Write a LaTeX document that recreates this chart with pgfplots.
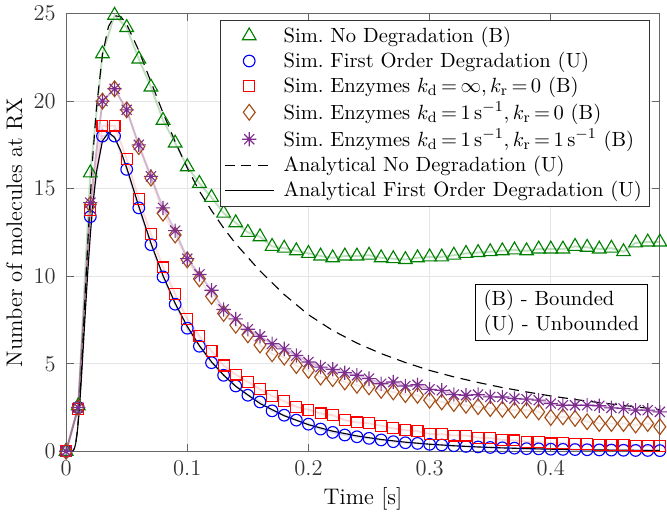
\documentclass[border=0pt]{standalone}
\usepackage{pgfplots}
\pgfplotsset{compat=1.18}
\usepackage{pgfplotstable}
\definecolor{cgreen}{rgb}{0,0.5,0}
\definecolor{cblue}{rgb}{0,0,1}
\definecolor{cred}{rgb}{1,0,0}
\definecolor{cbrown}{rgb}{0.64,0.30,0.08}
\definecolor{cpurple}{rgb}{0.49,0.18,0.56}
\pgfdeclareplotmark{mstar}{%
 \pgfpathmoveto{\pgfqpoint{-\pgfplotmarksize}{0pt}}\pgfpathlineto{\pgfqpoint{\pgfplotmarksize}{0pt}}%
 \pgfpathmoveto{\pgfqpoint{0pt}{-\pgfplotmarksize}}\pgfpathlineto{\pgfqpoint{0pt}{\pgfplotmarksize}}%
 \pgfpathmoveto{\pgfqpoint{-.707\pgfplotmarksize}{-.707\pgfplotmarksize}}\pgfpathlineto{\pgfqpoint{.707\pgfplotmarksize}{.707\pgfplotmarksize}}%
 \pgfpathmoveto{\pgfqpoint{-.707\pgfplotmarksize}{.707\pgfplotmarksize}}\pgfpathlineto{\pgfqpoint{.707\pgfplotmarksize}{-.707\pgfplotmarksize}}%
 \pgfusepathqstroke}
\pgfplotsset{
  markleg/.style={legend image code/.code={\draw[mark repeat=2,mark phase=2,##1] plot coordinates {(0pt,0pt)(13pt,0pt)(26pt,0pt)};}},
  lineleg/.style={legend image code/.code={\draw[##1] (0pt,0pt) -- (26pt,0pt);}},
}

% t, nodeg, first, kdinf, kd1kr0, kd1kr1
\pgfplotstableread{
t     A      B     C     D     E
0.00  0      0     0     0     0
0.01  2.6    2.5   2.4   2.5   2.5
0.02  15.9   13.4  13.8  14.1  14.2
0.03  22.7   18.0  18.6  20.0  20.0
0.04  24.9   18.0  18.6  20.7  20.7
0.05  24.2   16.1  16.7  19.5  19.5
0.06  22.4   13.9  14.4  17.4  17.5
0.07  20.8   11.8  12.4  15.6  15.7
0.08  18.9   9.96  10.5  13.6  13.9
0.09  17.6   8.4   8.98  12.35 12.6
0.10  16.25  7.03  7.56  10.93 11.0
0.11  15.3   6.0   6.57  9.85  10.1
0.12  14.5   5.06  5.72  8.85  9.2
0.13  13.6   4.34  4.9   7.87  8.1
0.14  13.05  3.73  4.38  7.2   7.56
0.15  12.5   3.2   3.96  6.65  6.97
0.16  12.25  2.82  3.54  6.07  6.57
0.17  11.7   2.31  3.16  5.57  6.14
0.18  11.6   2.06  2.86  5.38  5.85
0.19  11.45  1.78  2.54  4.9   5.47
0.20  11.3   1.55  2.38  4.62  5.1
0.21  11.15  1.27  2.16  4.24  4.81
0.22  11.05  1.08  2.06  4.15  4.68
0.23  11.15  0.93  1.78  3.96  4.49
0.24  11.15  0.83  1.65  3.77  4.34
0.25  11.2   0.74  1.6   3.68  4.15
0.26  11.05  0.65  1.46  3.48  3.86
0.27  11.0   0.55  1.31  3.39  3.96
0.28  10.95  0.49  1.2   3.24  3.73
0.29  11.05  0.45  1.15  3.2   3.8
0.30  11.1   0.4   0.99  2.92  3.54
0.31  11.1   0.36  0.97  2.82  3.48
0.32  11.2   0.32  0.9   2.73  3.24
0.33  11.3   0.28  0.9   2.63  3.2
0.34  11.35  0.25  0.78  2.55  3.24
0.35  11.4   0.22  0.76  2.44  3.11
0.36  11.45  0.2   0.65  2.4   3.1
0.37  11.5   0.18  0.62  2.35  3.01
0.38  11.45  0.15  0.55  2.35  2.98
0.39  11.55  0.14  0.52  2.25  2.92
0.40  11.55  0.12  0.45  1.93  2.73
0.41  11.55  0.11  0.47  1.97  2.63
0.42  11.7   0.1   0.42  1.88  2.63
0.43  11.65  0.09  0.4   1.69  2.63
0.44  11.55  0.08  0.38  1.59  2.6
0.45  11.6   0.07  0.36  1.59  2.48
0.46  11.4   0.06  0.35  1.59  2.45
0.47  11.9   0.05  0.33  1.5   2.35
0.48  11.95  0.05  0.31  1.59  2.35
0.49  11.95  0.04  0.3   1.4   2.25
}\simdata

% analytical curves: t, no degradation, first order degradation
\pgfplotstableread{
t      N      F
0.000  0      0
0.004  0.0005 0.0005
0.005  0.009  0.009
0.006  0.057  0.054
0.007  0.20   0.191
0.008  0.51   0.477
0.009  1.03   0.953
0.010  1.77   1.626
0.011  2.71   2.477
0.012  3.84   3.477
0.013  5.10   4.581
0.014  6.45   5.745
0.015  7.85   6.94
0.016  9.26   8.12
0.018  12.02  10.37
0.020  14.56  12.36
0.022  16.80  14.03
0.025  19.56  15.94
0.030  22.66  17.72
0.035  24.26  18.21
0.040  24.87  17.92
0.045  24.83  17.17
0.050  24.39  16.19
0.060  22.88  13.99
0.070  21.10  11.89
0.080  19.32  10.03
0.090  17.68  8.45
0.100  16.18  7.13
0.110  14.86  6.03
0.120  13.75  5.11
0.130  12.75  4.35
0.140  11.85  3.71
0.160  10.30  2.73
0.180  8.95   2.03
0.200  7.80   1.52
0.220  6.90   1.15
0.240  6.18   0.879
0.260  5.58   0.675
0.280  5.07   0.522
0.300  4.62   0.405
0.320  4.25   0.316
0.340  3.93   0.248
0.360  3.64   0.195
0.380  3.39   0.154
0.400  3.16   0.122
0.420  2.96   0.097
0.440  2.78   0.077
0.460  2.62   0.062
0.490  2.38   0.044
}\anadata

\begin{document}
\begin{tikzpicture}
\begin{axis}[
  width=316pt, height=233pt, scale only axis,
  xmin=0, xmax=0.49, ymin=0, ymax=25,
  xtick={0,0.1,0.2,0.3,0.4},
  xticklabels={0,0.1,0.2,0.3,0.4},
  ytick={0,5,10,15,20,25},
  grid=major,
  grid style={draw=black!10, line width=0.4pt},
  axis line style={draw=black!60, line width=0.6pt},
  major tick style={draw=black!60, line width=0.6pt},
  major tick length=4pt,
  tick label style={text=black!80, font=\large},
  xticklabel style={yshift=-1.5pt},
  yticklabel style={xshift=-2pt},
  xlabel={Time [s]},
  ylabel={Number of molecules at RX},
  label style={font=\large},
  xlabel style={yshift=1pt},
  ylabel style={yshift=-1pt},
  clip=false,
  legend cell align=left,
  legend style={at={(rel axis cs:0.983,0.986)}, anchor=north east,
    font=\fontsize{10.95}{13}\selectfont,
    draw=black!80, fill=white, line width=0.5pt, row sep=-0.3pt,
    inner xsep=2pt, inner ysep=1.5pt,
    /tikz/every odd column/.append style={column sep=3pt}},
  every axis plot/.append style={line width=0.6pt},
]
% faint connecting lines
\addplot[forget plot, cgreen, opacity=0.25, line width=1pt] table[x=t,y=A] {\simdata};
\addplot[forget plot, cblue, opacity=0.15, line width=1pt] table[x=t,y=B] {\simdata};
\addplot[forget plot, cred, opacity=0.15, line width=1pt] table[x=t,y=C] {\simdata};
\addplot[forget plot, cbrown, opacity=0.12, line width=1pt] table[x=t,y=D] {\simdata};
\addplot[forget plot, cpurple, opacity=0.3, line width=1pt] table[x=t,y=E] {\simdata};
% markers
\addplot[cgreen, only marks, markleg, mark=triangle, mark size=4.2pt, mark options={line width=0.6pt}]
  table[x=t,y=A] {\simdata};
\addlegendentry{Sim.\ No Degradation (B)}
\addplot[cblue, only marks, markleg, mark=o, mark size=3.1pt, mark options={line width=0.6pt}]
  table[x=t,y=B] {\simdata};
\addlegendentry{Sim.\ First Order Degradation (U)}
\addplot[cred, only marks, markleg, mark=square, mark size=2.9pt, mark options={line width=0.6pt}]
  table[x=t,y=C] {\simdata};
\addlegendentry{\thickmuskip=3mu Sim.\ Enzymes $k_\mathrm{d}=\infty, k_\mathrm{r}=0$ (B)}
\addplot[cbrown, only marks, markleg, mark=diamond, mark size=4.2pt, mark options={line width=0.6pt}]
  table[x=t,y=D] {\simdata};
\addlegendentry{\thickmuskip=3mu Sim.\ Enzymes $k_\mathrm{d}=1\,\mathrm{s}^{-1}, k_\mathrm{r}=0$ (B)}
\addplot[cpurple, only marks, markleg, mark=mstar, mark size=3.8pt, mark options={line width=0.6pt}]
  table[x=t,y=E] {\simdata};
\addlegendentry{\thickmuskip=3mu Sim.\ Enzymes $k_\mathrm{d}=1\,\mathrm{s}^{-1}, k_\mathrm{r}=1\,\mathrm{s}^{-1}$ (B)}
% analytical
\addplot[black, no marks, lineleg, line width=0.6pt, dash pattern=on 5.3pt off 3.5pt]
  table[x=t,y=N] {\anadata};
\addlegendentry{Analytical No Degradation (U)}
\addplot[black, no marks, lineleg, line width=0.6pt]
  table[x=t,y=F] {\anadata};
\addlegendentry{Analytical First Order Degradation (U)}
\node[draw=black, fill=white, line width=0.5pt, anchor=north east, align=left,
  inner xsep=4.5pt, inner ysep=3pt, font=\fontsize{10.95}{13}\selectfont]
  at (rel axis cs:0.98,0.382) {(B) - Bounded\\(U) - Unbounded};
\end{axis}
\end{tikzpicture}
\end{document}
